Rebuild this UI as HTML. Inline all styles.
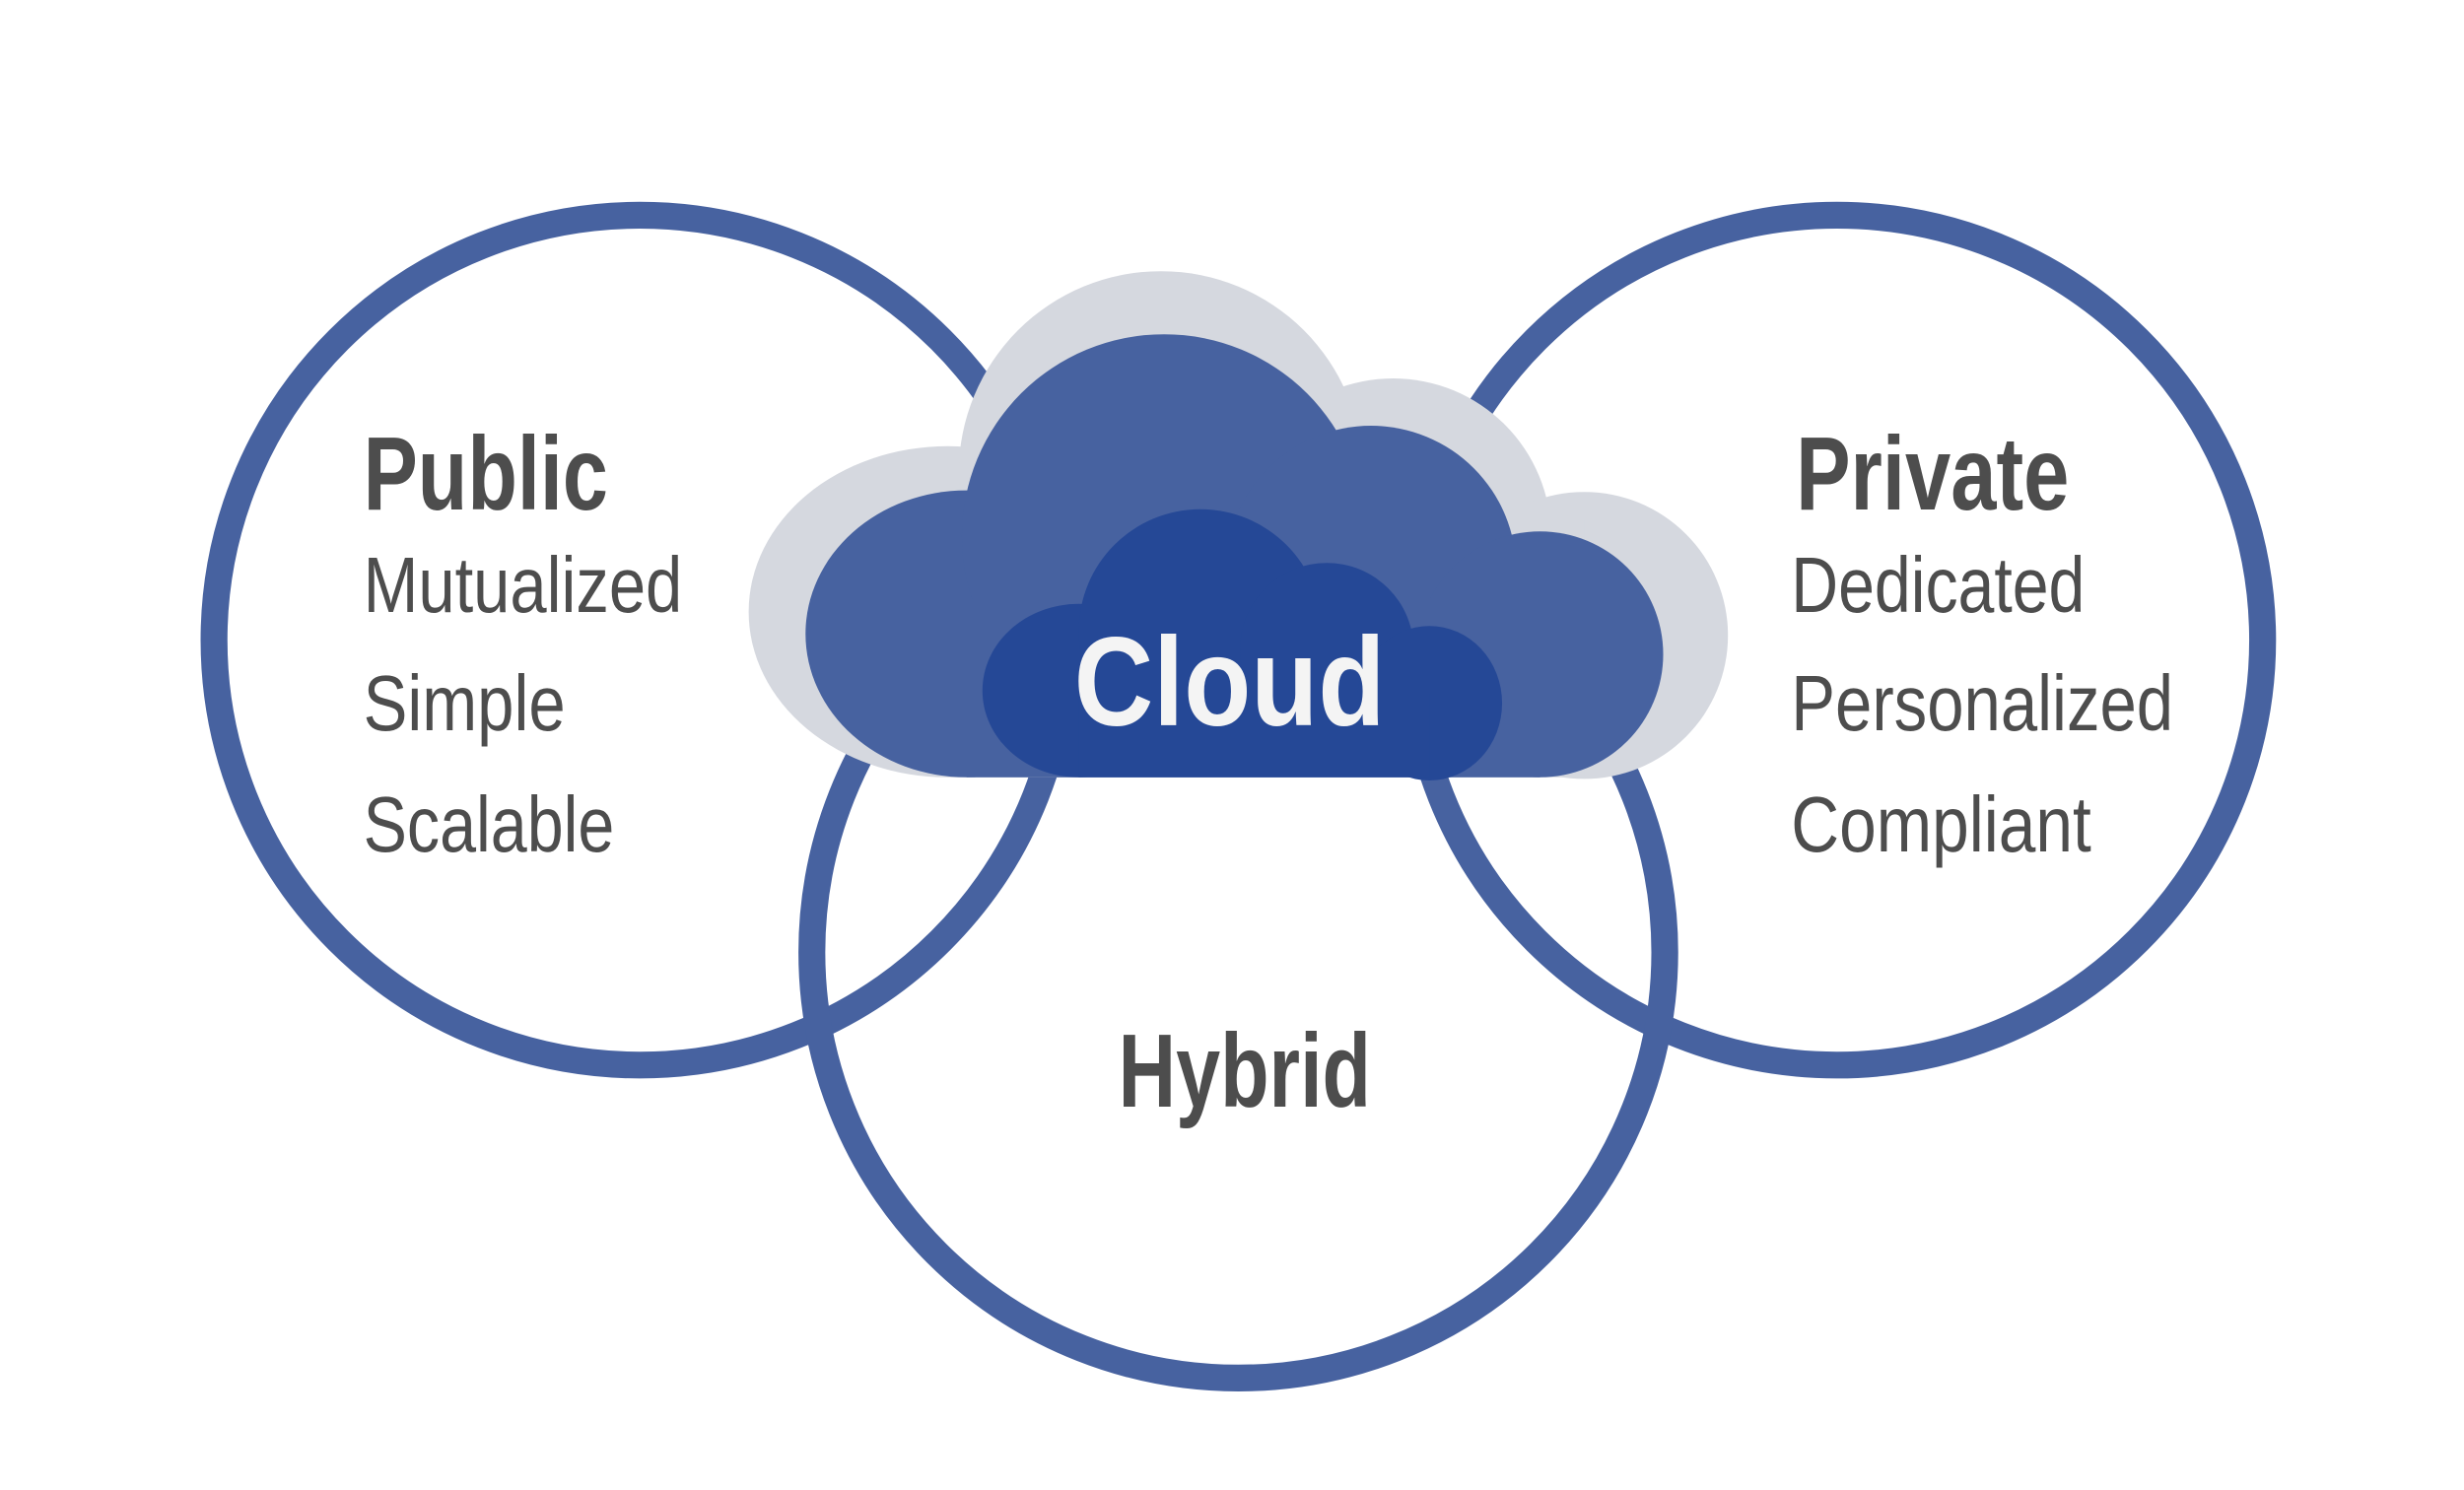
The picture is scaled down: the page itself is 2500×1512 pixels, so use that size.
<!DOCTYPE html>
<html><head><meta charset="utf-8"><style>
html,body{margin:0;padding:0;background:#fff;}
svg{display:block;}
text{font-family:"Liberation Sans",sans-serif;fill:#4d4d4d;}
</style></head><body>
<svg width="2500" height="1512" viewBox="0 0 1560 945" preserveAspectRatio="none" xmlns="http://www.w3.org/2000/svg">
<rect width="1560" height="945" fill="#fff"/>
<g fill="none" stroke="#4762a0" stroke-width="17">
<circle cx="405" cy="406" r="269.5"/>
<circle cx="1163" cy="406" r="269.5"/>
<circle cx="784" cy="604" r="270"/>
</g>
<g fill="#d5d8df">
<ellipse cx="600" cy="388" rx="126" ry="105"/>
<circle cx="735" cy="300" r="128"/>
<circle cx="882" cy="340" r="100"/>
<circle cx="1003" cy="403" r="91"/>
<rect x="600" y="330" width="403" height="163"/>
</g>
<g fill="#4762a0">
<ellipse cx="612" cy="402" rx="102" ry="91"/>
<circle cx="737" cy="340" r="128"/>
<circle cx="868" cy="362" r="92"/>
<circle cx="975" cy="415" r="78"/>
<rect x="612" y="380" width="363" height="113"/>
</g>
<g fill="#254896">
<ellipse cx="683" cy="438" rx="61" ry="55"/>
<circle cx="760" cy="400" r="77"/>
<circle cx="840" cy="412" r="55"/>
<ellipse cx="905" cy="446" rx="46" ry="49"/>
<rect x="683" y="440" width="222" height="53"/>
</g>
<text x="680" y="460" font-size="80" font-weight="bold" style="fill:#f4f4f4" textLength="197" lengthAdjust="spacingAndGlyphs">Cloud</text>
<text x="230" y="323" font-size="66" font-weight="bold" textLength="155" lengthAdjust="spacingAndGlyphs">Public</text>
<text x="230" y="388" font-size="50" textLength="202" lengthAdjust="spacingAndGlyphs">Mutualized</text>
<text x="230" y="463" font-size="50" textLength="128" lengthAdjust="spacingAndGlyphs">Simple</text>
<text x="230" y="540" font-size="50" textLength="159" lengthAdjust="spacingAndGlyphs">Scalable</text>
<text x="1137" y="323" font-size="66" font-weight="bold" textLength="173" lengthAdjust="spacingAndGlyphs">Private</text>
<text x="1134" y="388" font-size="50" textLength="186" lengthAdjust="spacingAndGlyphs">Dedicated</text>
<text x="1134" y="463" font-size="50" textLength="242" lengthAdjust="spacingAndGlyphs">Personalized</text>
<text x="1134" y="540" font-size="50" textLength="190" lengthAdjust="spacingAndGlyphs">Compliant</text>
<text x="708" y="702" font-size="66" font-weight="bold" textLength="160" lengthAdjust="spacingAndGlyphs">Hybrid</text>
</svg>
</body></html>
